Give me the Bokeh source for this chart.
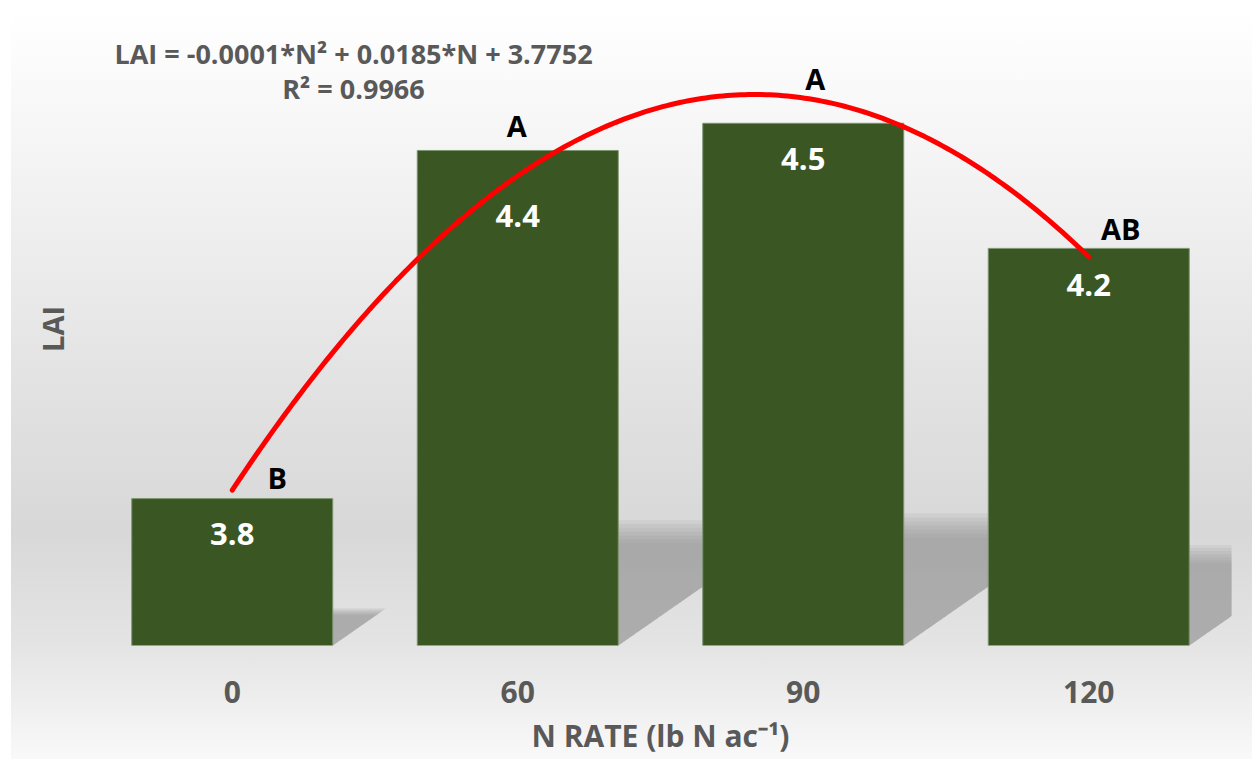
import numpy as np
from bokeh.plotting import figure
from bokeh.models import (ColumnDataSource, Range1d, FixedTicker, LabelSet, Label,
                          InlineStyleSheet)
from bokeh.core.properties import value
from bokeh.embed import file_html
from bokeh.resources import INLINE

# ---------------- data ----------------
n_rates = ["0", "60", "90", "120"]
lai = [3.77, 4.41, 4.46, 4.23]
lai_labels = ["3.8", "4.4", "4.5", "4.2"]
letters = ["B", "A", "A", "AB"]
equation = "LAI = -0.0001*N\u00b2 + 0.0185*N + 3.7752"
r_squared = "R\u00b2 = 0.9966"

# ---------------- layout / style constants ----------------
FONT = "Open Sans"
GREY_TXT = "#595959"
BAR_COLOR = "#3a5623"
Y0 = 3.5
PX_PER_Y = 544.0
PX_PER_X = 285.5
BAR_W = 0.704
value_label_drop = [35, 66, 36, 37]          # px below bar top
letter_dx = [45, -1, 12, 32]                  # px
letter_dy = [21, 25, 45, 20]                  # px above bar top

x = np.arange(1, len(n_rates) + 1)
vals = np.array(lai)

p = figure(width=1252, height=759,
           x_range=Range1d(0.5, 4.5), y_range=Range1d(Y0, Y0 + 633 / PX_PER_Y),
           output_backend="svg", toolbar_location=None,
           min_border_left=89, min_border_right=21, min_border_top=12, min_border_bottom=114,
           background_fill_color=None, border_fill_color=None, outline_line_color=None)

p.stylesheets = [InlineStyleSheet(css="""
:host {
  background:
    linear-gradient(to right, #ffffff 0px, #ffffff 11px, rgba(255,255,255,0) 11px),
    linear-gradient(to bottom, #ffffff 12px, #f4f4f4 158px, #e2e2e2 388px, #d8d8d8 530px,
                    #e4e4e4 645px, #f9f9f9 759px);
}
""")]

p.xgrid.visible = False
p.ygrid.visible = False

# perspective shadows behind the bars (soft edges from stacked translucent layers)
h = vals - Y0
for s in np.linspace(0.9, 1.1, 7):
    dx = 0.33 * s * h * PX_PER_Y / PX_PER_X
    top = Y0 + 0.23 * s * h
    xs = [[xi - BAR_W / 2, xi + BAR_W / 2, xi + BAR_W / 2 + d, xi - BAR_W / 2 + d]
          for xi, d in zip(x, dx)]
    ys = [[Y0, Y0, t, t] for t in top]
    p.patches(xs, ys, fill_color="#8f8f8f", fill_alpha=0.12, line_color=None)

# bars
src = ColumnDataSource(dict(x=x, top=vals, lab=lai_labels, let=letters,
                            lab_off=[-d for d in value_label_drop],
                            let_dx=letter_dx, let_dy=letter_dy))
p.vbar(x="x", top="top", bottom=Y0, width=BAR_W, source=src,
       fill_color=BAR_COLOR, line_color="#7d9670", line_width=1)

# quadratic trendline fitted to the bar values
coef = np.polyfit(x, vals, 2)
xf = np.linspace(x[0], x[-1], 200)
p.line(xf, np.polyval(coef, xf), line_color="#ff0000", line_width=5, line_cap="round")

# value labels inside bars
p.add_layout(LabelSet(x="x", y="top", text="lab", y_offset="lab_off", source=src,
                      text_font=value(FONT), text_font_style="bold", text_font_size="31px",
                      text_color="white", text_align="center", text_baseline="middle"))
# significance letters
p.add_layout(LabelSet(x="x", y="top", text="let", x_offset="let_dx", y_offset="let_dy", source=src,
                      text_font=value(FONT), text_font_style="bold", text_font_size="29px",
                      text_color="black", text_align="center", text_baseline="middle"))

# equation
p.add_layout(Label(x=264, y=592, x_units="screen", y_units="screen", text=equation,
                   text_font=FONT, text_font_style="bold", text_font_size="27px",
                   text_color=GREY_TXT, text_align="center", text_baseline="middle"))
p.add_layout(Label(x=264, y=557, x_units="screen", y_units="screen", text=r_squared,
                   text_font=FONT, text_font_style="bold", text_font_size="27px",
                   text_color=GREY_TXT, text_align="center", text_baseline="middle"))

# axes
xa = p.xaxis[0]
xa.ticker = FixedTicker(ticks=list(x))
xa.major_label_overrides = {int(i): s for i, s in zip(x, n_rates)}
xa.axis_line_color = None
xa.major_tick_line_color = None
xa.minor_tick_line_color = None
xa.major_label_standoff = 29
xa.major_label_text_font = FONT
xa.major_label_text_font_style = "bold"
xa.major_label_text_font_size = "30px"
xa.major_label_text_color = GREY_TXT
xa.axis_label = "N RATE (lb N ac\u207b\u00b9)"
xa.axis_label_standoff = 9
xa.axis_label_text_font = FONT
xa.axis_label_text_font_style = "bold"
xa.axis_label_text_font_size = "30px"
xa.axis_label_text_color = GREY_TXT

ya = p.yaxis[0]
ya.ticker = FixedTicker(ticks=[])
ya.axis_line_color = None
ya.major_tick_line_color = None
ya.minor_tick_line_color = None
ya.major_label_text_font_size = "0px"
ya.axis_label = "LAI"
ya.axis_label_standoff = 18
ya.axis_label_text_font = FONT
ya.axis_label_text_font_style = "bold"
ya.axis_label_text_font_size = "29px"
ya.axis_label_text_color = GREY_TXT

open("out.html", "w").write(file_html(p, INLINE))
